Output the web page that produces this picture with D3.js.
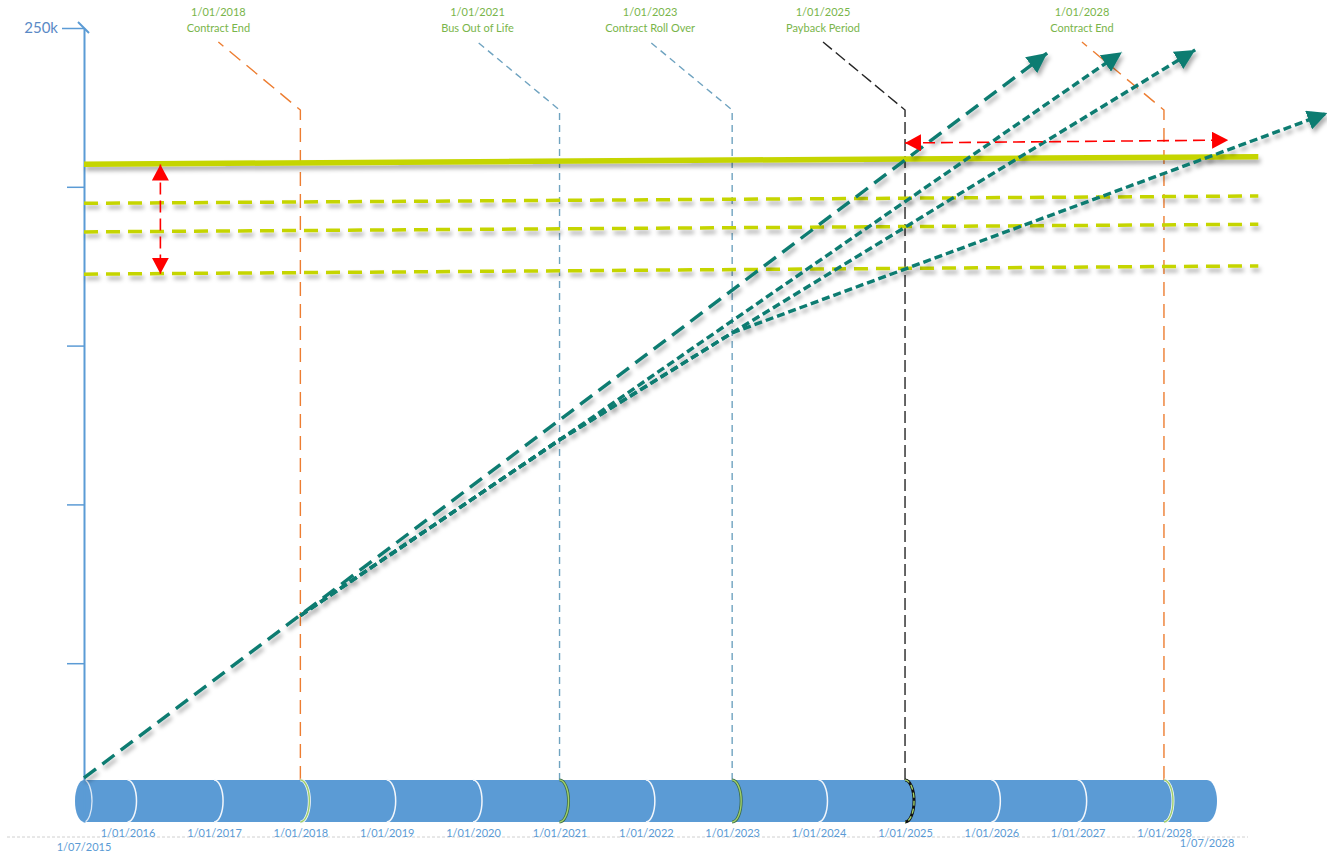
<!DOCTYPE html>
<html>
<head>
<meta charset="utf-8">
<script src="https://cdn.jsdelivr.net/npm/d3@7"></script>
<style>
  html, body { margin: 0; padding: 0; background: #fff; }
  svg { display: block; font-family: Lato, "Open Sans", sans-serif; }
</style>
</head>
<body>
<svg id="chart" width="1327" height="852"></svg>
<script>
// ---------------- DATA ----------------
const timelineStart = "2015-07-01";
const timelineEnd = "2028-07-01";
const yearTicks = ["2016-01-01","2017-01-01","2018-01-01","2019-01-01","2020-01-01","2021-01-01",
                   "2022-01-01","2023-01-01","2024-01-01","2025-01-01","2026-01-01","2027-01-01","2028-01-01"];
const yTickValues = [50000, 100000, 150000, 200000, 250000];
const yTickLabels = ["", "", "", "", "250k"];

const eventDates = ["2018-01-01", "2021-01-01", "2023-01-01", "2025-01-01", "2028-01-01"];
const eventLabels = ["Contract End", "Bus Out of Life", "Contract Roll Over", "Payback Period", "Contract End"];

// threshold (budget) lines: start at timeline start, end date below
const thresholdEndDate = "2029-02-03";
const thresholdStartValues = [207100, 194800, 185800, 172500];
const thresholdEndValues = [209500, 197100, 188200, 175100];

// cumulative cost scenarios (arrows)
const scenarioA_dates = ["2015-07-01", "2026-08-25"];
const scenarioA_values = [13900, 242100];
const scenarioB_dates = ["2018-01-01", "2021-01-01", "2027-07-07"];
const scenarioB_values = [65000, 120300, 242400];
const scenarioC_dates = ["2018-01-01", "2021-01-01", "2023-01-01", "2028-05-12"];
const scenarioC_values = [65000, 120300, 154000, 243100];
const scenarioD_dates = ["2018-01-01", "2021-01-01", "2023-01-01", "2029-11-22"];
const scenarioD_values = [65000, 120300, 154000, 223200];

// red range arrows
const rangeV_date = "2016-05-19";
const rangeV_values = [207000, 172600];
const rangeH_dates = ["2025-01-01", "2028-09-28"];
const rangeH_values = [213800, 214700];

// ---------------- STYLE / LAYOUT ----------------
const parse = d3.timeParse("%Y-%m-%d");
const svg = d3.select("#chart");
const blue = "#5b9bd5";
const teal = "#0b7b71";
const lime = "#c5d500";
const eventColors = ["#ed7d31", "#6fa3c0", "#6fa3c0", "#262626", "#ed7d31"];
const eventDash = ["14,8", "7,5", "7,5", "12,5", "14,8"];
const cylTop = 780, cylBot = 822;

const x = d3.scaleTime().domain([parse(timelineStart), parse(timelineEnd)]).range([84, 1207]);
const y = d3.scaleLinear().domain([0, 250000]).range([822, 28]);

const defs = svg.append("defs");
const f = defs.append("filter").attr("id", "shadow").attr("x", "-5%").attr("y", "-50%").attr("width", "110%").attr("height", "200%");
f.append("feDropShadow").attr("dx", 2).attr("dy", 4).attr("stdDeviation", 2.2)
  .attr("flood-color", "#000").attr("flood-opacity", 0.32);

function marker(id, color, len, half) {
  defs.append("marker").attr("id", id)
    .attr("viewBox", `0 ${-half} ${len} ${half * 2}`)
    .attr("refX", len).attr("refY", 0)
    .attr("markerUnits", "userSpaceOnUse")
    .attr("markerWidth", len).attr("markerHeight", half * 2)
    .attr("orient", "auto-start-reverse")
    .append("path").attr("d", `M0,${-half}L${len},0L0,${half}Z`).attr("fill", color);
}
marker("tealHead", teal, 20, 10);
marker("redHead", "#ff0000", 16, 8.5);

// ---------------- BOTTOM BASELINE ----------------
svg.append("line").attr("x1", 7).attr("x2", 1248).attr("y1", 837).attr("y2", 837)
  .attr("stroke", "#d0d0d0").attr("stroke-width", 1).attr("stroke-dasharray", "3,2");

// ---------------- EVENT LINES ----------------
const evG = svg.append("g");
eventDates.forEach((d, i) => {
  const ex = x(parse(d));
  evG.append("path")
    .attr("d", `M${ex},${cylTop} L${ex},110 L${ex - 82},42`)
    .attr("fill", "none").attr("stroke", eventColors[i]).attr("stroke-width", 1.4)
    .attr("stroke-dasharray", eventDash[i]);
  const t = evG.append("text").attr("x", ex - 82).attr("text-anchor", "middle")
    .attr("fill", "#79b54a").attr("font-size", 11);
  t.append("tspan").attr("x", ex - 82).attr("y", 16).text(d3.timeFormat("%-d/%m/%Y")(parse(d)));
  t.append("tspan").attr("x", ex - 82).attr("y", 32).text(eventLabels[i]);
});

// ---------------- CYLINDER TIMELINE ----------------
const cx0 = x(parse(timelineStart)), cx1 = x(parse(timelineEnd));
const ry = (cylBot - cylTop) / 2, cy = (cylTop + cylBot) / 2;
const cyl = svg.append("g");
cyl.append("path")
  .attr("d", `M${cx0},${cylTop} L${cx1},${cylTop} A10,${ry} 0 0 1 ${cx1},${cylBot} L${cx0},${cylBot} Z`)
  .attr("fill", blue);
cyl.append("ellipse").attr("cx", cx0).attr("cy", cy).attr("rx", 9).attr("ry", ry).attr("fill", blue);
cyl.append("path").attr("d", `M${cx0},${cylTop} A8,${ry} 0 0 1 ${cx0},${cylBot}`)
  .attr("fill", "none").attr("stroke", "#dbe8f5").attr("stroke-width", 1.3);
yearTicks.forEach(d => {
  const yx = x(parse(d));
  const ei = eventDates.indexOf(d);
  const arc = `M${yx},${cylTop} A9,${ry} 0 0 1 ${yx},${cylBot}`;
  if (ei < 0) {
    cyl.append("path").attr("d", arc).attr("fill", "none").attr("stroke", "#f2f6fb").attr("stroke-width", 1.5);
  } else {
    const edge = (ei === 0 || ei === 4) ? "#f2f6fb" : (ei === 3 ? "#111" : "#3a6a4a");
    cyl.append("path").attr("d", arc).attr("fill", "none").attr("stroke", edge).attr("stroke-width", 3);
    cyl.append("path").attr("d", arc).attr("fill", "none").attr("stroke", "#9fcf6a").attr("stroke-width", 1.4)
      .attr("stroke-dasharray", ei === 3 ? "5,3" : null);
  }
});

// bottom date axis
const xAxis = d3.axisBottom(x).tickValues(yearTicks.map(parse))
  .tickFormat(d3.timeFormat("%-d/%m/%Y")).tickSize(0).tickPadding(7);
const xg = svg.append("g").attr("transform", `translate(0,${cylBot})`).call(xAxis);
xg.select(".domain").remove();
xg.selectAll("text").attr("fill", blue).attr("font-size", 11).attr("font-family", "Lato, sans-serif");
svg.append("text").attr("x", cx0).attr("y", 851).attr("text-anchor", "middle")
  .attr("fill", blue).attr("font-size", 11).text(d3.timeFormat("%-d/%m/%Y")(parse(timelineStart)));
svg.append("text").attr("x", cx1).attr("y", 847).attr("text-anchor", "middle")
  .attr("fill", blue).attr("font-size", 11).text(d3.timeFormat("%-d/%m/%Y")(parse(timelineEnd)));

// ---------------- Y AXIS ----------------
const yAxis = d3.axisLeft(y).tickValues(yTickValues).tickSize(17).tickSizeOuter(0)
  .tickFormat((d, i) => yTickLabels[i]);
const yg = svg.append("g").attr("transform", `translate(${cx0},0)`).call(yAxis);
yg.select(".domain").attr("stroke", blue).attr("stroke-width", 2);
yg.selectAll(".tick line").attr("stroke", blue).attr("stroke-width", 1.5);
yg.selectAll(".tick text").attr("fill", "#5a8ac6").attr("font-size", 15).attr("font-family", "Lato, sans-serif");
yg.selectAll(".tick").filter(d => d === 250000).select("line").attr("x2", -22);
yg.selectAll(".tick").filter(d => d === 250000).select("text").attr("x", -26);
svg.append("line").attr("x1", cx0 - 6).attr("y1", y(250000) - 6).attr("x2", cx0 + 5).attr("y2", y(250000) + 5)
  .attr("stroke", blue).attr("stroke-width", 2);

// ---------------- THRESHOLD LINES ----------------
const line = d3.line().x(d => x(d[0])).y(d => y(d[1]));
const thG = svg.append("g").attr("filter", "url(#shadow)");
thresholdStartValues.forEach((v, i) => {
  thG.append("path")
    .attr("d", line([[parse(timelineStart), v], [parse(thresholdEndDate), thresholdEndValues[i]]]))
    .attr("fill", "none").attr("stroke", lime)
    .attr("stroke-width", i === 0 ? 5.5 : 3.5)
    .attr("stroke-dasharray", i === 0 ? null : "14,8");
});

// ---------------- SCENARIO ARROWS ----------------
const scenarios = [
  { dates: scenarioA_dates, values: scenarioA_values, dash: "15,8" },
  { dates: scenarioB_dates, values: scenarioB_values, dash: "8,4" },
  { dates: scenarioC_dates, values: scenarioC_values, dash: "8,4" },
  { dates: scenarioD_dates, values: scenarioD_values, dash: "8,4" }
];
const scG = svg.append("g").attr("filter", "url(#shadow)");
scenarios.forEach(s => {
  const pts = s.dates.map((d, i) => [parse(d), s.values[i]]);
  scG.append("path").attr("d", line(pts))
    .attr("fill", "none").attr("stroke", teal).attr("stroke-width", 3.4)
    .attr("stroke-dasharray", s.dash).attr("marker-end", "url(#tealHead)");
});

// ---------------- RED RANGE ARROWS ----------------
const rdG = svg.append("g");
rdG.append("path")
  .attr("d", line([[parse(rangeV_date), rangeV_values[0]], [parse(rangeV_date), rangeV_values[1]]]))
  .attr("fill", "none").attr("stroke", "#ff0000").attr("stroke-width", 1.6).attr("stroke-dasharray", "12,6")
  .attr("marker-start", "url(#redHead)").attr("marker-end", "url(#redHead)");
rdG.append("path")
  .attr("d", line([[parse(rangeH_dates[0]), rangeH_values[0]], [parse(rangeH_dates[1]), rangeH_values[1]]]))
  .attr("fill", "none").attr("stroke", "#ff0000").attr("stroke-width", 1.6).attr("stroke-dasharray", "12,6")
  .attr("marker-start", "url(#redHead)").attr("marker-end", "url(#redHead)");
</script>
</body>
</html>
